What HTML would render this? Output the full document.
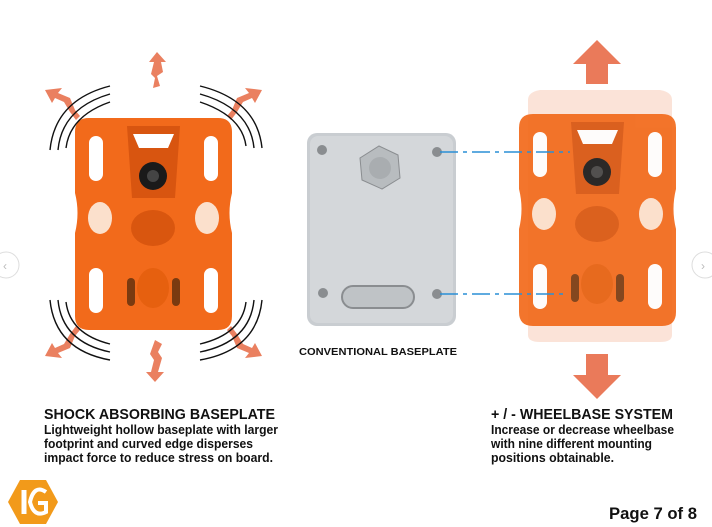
<!DOCTYPE html>
<html><head><meta charset="utf-8"><style>
html,body{margin:0;padding:0;background:#fff;width:712px;height:527px;overflow:hidden}
svg{display:block}
text{font-family:"Liberation Sans",Arial,sans-serif;font-weight:bold;fill:#111}
</style></head><body>
<svg width="712" height="527" viewBox="0 0 712 527" xmlns="http://www.w3.org/2000/svg">
<defs>
<g id="plate">
  <path d="M0,14 Q0,0 14,0 L143,0 Q157,0 157,14 L157,75 Q152,95 157,115 L157,198 Q157,212 143,212 L14,212 Q0,212 0,198 L0,115 Q5,95 0,75 Z" fill="#f26a1b"/>
  <rect x="14" y="18" width="14" height="45" rx="7" fill="#fff"/>
  <rect x="129" y="18" width="14" height="45" rx="7" fill="#fff"/>
  <rect x="14" y="150" width="14" height="45" rx="7" fill="#fff"/>
  <rect x="129" y="150" width="14" height="45" rx="7" fill="#fff"/>
  <path d="M52,8 L105,8 L100,80 L57,80 Z" fill="#d85510"/>
  <path d="M58,16 L99,16 L93,30 L64,30 Z" fill="#fff"/>
  <circle cx="78" cy="58" r="14" fill="#1a1a1a"/>
  <circle cx="78" cy="58" r="6" fill="#444"/>
  <ellipse cx="25" cy="100" rx="12" ry="16" fill="#fbe0cc"/>
  <ellipse cx="132" cy="100" rx="12" ry="16" fill="#fbe0cc"/>
  <ellipse cx="78" cy="110" rx="22" ry="18" fill="#d9560f"/>
  <ellipse cx="78" cy="170" rx="16" ry="20" fill="#e6600f"/>
  <rect x="52" y="160" width="8" height="28" rx="4" fill="#7a3a10"/>
  <rect x="97" y="160" width="8" height="28" rx="4" fill="#7a3a10"/>
</g>
</defs>

<use href="#plate" x="75" y="118"/>
<g fill="#ea8060">
<path d="M157,52 L166,62 L161,62 L163,72 L157,76 L160,86 L153,88 L155,78 L151,74 L154,62 L149,62 Z"/>
<path d="M155,340 L162,344 L158,352 L162,358 L158,372 L164,372 L155,382 L146,372 L151,372 L154,360 L150,354 Z"/>
<path d="M45,90 L62,88 L58,93 L70,98 L75,110 L80,116 L76,120 L70,112 L64,102 L55,98 L52,103 Z"/>
<path d="M262,90 L245,88 L249,93 L237,98 L232,110 L227,116 L231,120 L237,112 L243,102 L252,98 L255,103 Z"/>
<path d="M45,356 L62,358 L58,353 L70,348 L75,336 L80,330 L76,326 L70,334 L64,344 L55,348 L52,343 Z"/>
<path d="M262,356 L245,358 L249,353 L237,348 L232,336 L227,330 L231,326 L237,334 L243,344 L252,348 L255,343 Z"/>
</g>
<g fill="none" stroke="#111" stroke-width="1.4">
<path d="M50,150 Q55,100 110,86"/><path d="M58,150 Q62,108 110,94"/><path d="M66,148 Q70,116 110,102"/>
<path d="M262,148 Q257,100 200,86"/><path d="M254,148 Q250,108 200,94"/><path d="M246,146 Q242,116 200,102"/>
<path d="M50,300 Q55,350 110,360"/><path d="M58,300 Q62,342 110,352"/><path d="M66,302 Q70,334 110,344"/>
<path d="M262,300 Q257,350 200,360"/><path d="M254,300 Q250,342 200,352"/><path d="M246,302 Q242,334 200,344"/>
</g>

<rect x="307" y="133" width="149" height="193" rx="10" fill="#c9cdd1"/>
<rect x="310" y="136" width="143" height="187" rx="8" fill="#d4d7da"/>
<circle cx="322" cy="150" r="5" fill="#8a8d90"/><circle cx="437" cy="152" r="5" fill="#8a8d90"/>
<circle cx="323" cy="293" r="5" fill="#8a8d90"/><circle cx="437" cy="294" r="5" fill="#8a8d90"/>
<polygon points="379,146 398,155 400,178 382,189 362,180 360,158" fill="#b8bcbf" stroke="#8a8d90"/>
<circle cx="380" cy="168" r="11" fill="#a9adb0"/>
<rect x="342" y="286" width="72" height="22" rx="11" fill="#bfc3c6" stroke="#8a8d90" stroke-width="2"/>
<text x="299" y="355" font-size="10.5" textLength="158" lengthAdjust="spacingAndGlyphs">CONVENTIONAL BASEPLATE</text>

<path d="M528,100 Q528,92 540,90 L660,90 Q672,92 672,100 L672,335 Q672,342 660,342 L540,342 Q528,342 528,335 Z" fill="#fbe3d8"/>
<use href="#plate" x="519" y="114" opacity="0.92"/>
<g fill="#ea7a5a">
<path d="M573,64 L597,40 L621,64 L608,64 L608,84 L586,84 L586,64 Z"/>
<path d="M573,375 L597,399 L621,375 L608,375 L608,354 L586,354 L586,375 Z"/>
</g>
<g stroke="#2a8fd6" stroke-width="1.6" stroke-dasharray="18,5,4,5">
<line x1="440" y1="152" x2="570" y2="152"/>
<line x1="440" y1="294" x2="568" y2="294"/>
</g>

<circle cx="6" cy="265" r="13" fill="#fff" stroke="#ddd"/>
<text x="3" y="270" font-size="12" style="fill:#bbb;font-weight:normal">‹</text>
<circle cx="705" cy="265" r="13" fill="#fff" stroke="#ddd"/>
<text x="701" y="270" font-size="12" style="fill:#bbb;font-weight:normal">›</text>

<text x="44" y="419" font-size="15" textLength="231" lengthAdjust="spacingAndGlyphs">SHOCK ABSORBING BASEPLATE</text>
<text x="44" y="434" font-size="13" textLength="234" lengthAdjust="spacingAndGlyphs">Lightweight hollow baseplate with larger</text>
<text x="44" y="448" font-size="13" textLength="209" lengthAdjust="spacingAndGlyphs">footprint and curved edge disperses</text>
<text x="44" y="462" font-size="13" textLength="229" lengthAdjust="spacingAndGlyphs">impact force to reduce stress on board.</text>

<text x="491" y="419" font-size="15" textLength="182" lengthAdjust="spacingAndGlyphs">+ / - WHEELBASE SYSTEM</text>
<text x="491" y="434" font-size="13" textLength="183" lengthAdjust="spacingAndGlyphs">Increase or decrease wheelbase</text>
<text x="491" y="448" font-size="13" textLength="161" lengthAdjust="spacingAndGlyphs">with nine different mounting</text>
<text x="491" y="462" font-size="13" textLength="123" lengthAdjust="spacingAndGlyphs">positions obtainable.</text>

<text x="609" y="519" font-size="17" textLength="88" lengthAdjust="spacingAndGlyphs">Page 7 of 8</text>

<polygon points="20,480 46,480 58,502 46,524 20,524 8,502" fill="#f29a1a"/>
<path d="M24,490 L24,514" stroke="#fff" stroke-width="5"/>
<path d="M46,492 Q34,484 30,502 Q34,518 46,512 L46,503 L38,503" fill="none" stroke="#fff" stroke-width="4"/>
</svg>
</body></html>
